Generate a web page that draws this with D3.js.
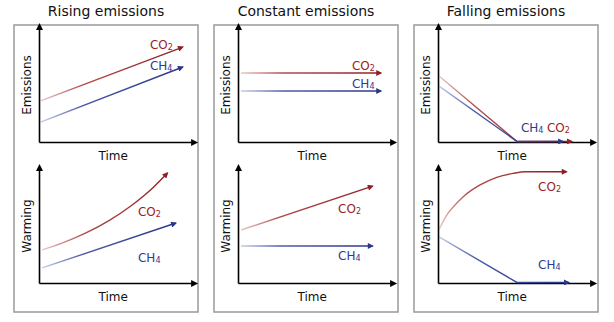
<!DOCTYPE html>
<html>
<head>
<meta charset="utf-8">
<script src="https://cdn.jsdelivr.net/npm/d3@7"></script>
<style>
  html, body { margin: 0; padding: 0; background: #fff; }
  svg { display: block; }
  text { font-family: "DejaVu Sans", sans-serif; }
</style>
</head>
<body>
<svg id="chart" width="614" height="322"></svg>
<script>
// ---- Data (abstract units: x = time 0..10, y = quantity 0..10) ----
const panelTitles = ["Rising emissions", "Constant emissions", "Falling emissions"];
const xAxisLabel = "Time";
const rowLabels = ["Emissions", "Warming"];
const gases = ["CO2", "CH4"];

// Rising emissions
const risingEmissionsCO2 = [[0.1, 3.6], [9.4, 8.33]];
const risingEmissionsCH4 = [[0.1, 1.75], [9.4, 6.58]];
const risingWarmingCO2 = [[0.2, 2.9], [1.5, 3.5], [3, 4.35], [4.6, 5.5], [6, 6.76], [7.5, 8.43], [8.4, 9.65]];
const risingWarmingCH4 = [[0.2, 1.32], [8.95, 5.26]];

// Constant emissions
const constantEmissionsCO2 = [[0.2, 6.05], [9.35, 6.05]];
const constantEmissionsCH4 = [[0.2, 4.47], [9.35, 4.47]];
const constantWarmingCO2 = [[0.2, 4.65], [8.8, 8.5]];
const constantWarmingCH4 = [[0.2, 3.25], [8.8, 3.25]];

// Falling emissions
const fallingEmissionsCO2 = [[0.07, 5.79], [5.16, 0.05], [8.75, 0.05]];
const fallingEmissionsCH4 = [[0.07, 4.9], [5.16, 0.05], [8.17, 0.05]];
const fallingWarmingCO2 = [[0.07, 4.7], [0.57, 5.96], [1.11, 6.84], [1.65, 7.57], [2.75, 8.6], [3.84, 9.27], [4.92, 9.62], [5.69, 9.76], [8.4, 9.76]];
const fallingWarmingCH4 = [[0.07, 4.04], [5.16, 0.05], [8.55, 0.05]];

// label anchor points (data units: left x, baseline y)
const labelAnchors = [
  [ { CO2: [7.25, 8.16], CH4: [7.25, 6.32] }, { CO2: [6.47, 5.88], CH4: [6.47, 1.84] } ],
  [ { CO2: [7.45, 6.32], CH4: [7.45, 4.74] }, { CO2: [6.54, 6.14], CH4: [6.54, 2.02] } ],
  [ { CO2: [7.12, 0.88], CH4: [5.42, 0.88] }, { CO2: [6.54, 8.07], CH4: [6.54, 1.23] } ]
];

const series = [
  [ { CO2: risingEmissionsCO2, CH4: risingEmissionsCH4 },
    { CO2: risingWarmingCO2, CH4: risingWarmingCH4 } ],
  [ { CO2: constantEmissionsCO2, CH4: constantEmissionsCH4 },
    { CO2: constantWarmingCO2, CH4: constantWarmingCH4 } ],
  [ { CO2: fallingEmissionsCO2, CH4: fallingEmissionsCH4 },
    { CO2: fallingWarmingCO2, CH4: fallingWarmingCH4 } ]
];

// ---- Styles / layout ----
const lineColor = { CO2: "#b24a4c", CH4: "#4c5aa8" };
const headColor = { CO2: "#8e1f24", CH4: "#2a3689" };
const textColor = { CO2: "#9c1c22", CH4: "#2d3b93" };
const subscript = { CO2: ["CO", "2"], CH4: ["CH", "4"] };

const svg = d3.select("#chart");
const defs = svg.append("defs");

defs.append("marker")
  .attr("id", "axisHead").attr("markerUnits", "userSpaceOnUse")
  .attr("viewBox", "0 0 10 10").attr("refX", 2).attr("refY", 5)
  .attr("markerWidth", 9).attr("markerHeight", 7).attr("orient", "auto")
  .append("path").attr("d", "M0,0 L10,5 L0,10 Z").attr("fill", "#000");

gases.forEach(g => {
  defs.append("marker")
    .attr("id", "head" + g).attr("markerUnits", "userSpaceOnUse")
    .attr("viewBox", "0 0 10 10").attr("refX", 8).attr("refY", 5)
    .attr("markerWidth", 8).attr("markerHeight", 6).attr("orient", "auto")
    .append("path").attr("d", "M0,0 L10,5 L0,10 Z").attr("fill", headColor[g]);
});

const panelW = 184, panelStep = 200, panelX0 = 14, boxTop = 25, boxBottom = 312;
const rows = [ { yBottom: 142, yTop: 28 }, { yBottom: 283, yTop: 169 } ];
const axisLen = 153;

let gradId = 0;

panelTitles.forEach((title, p) => {
  const bx = panelX0 + p * panelStep;
  const ox = bx + (p === 0 ? 25 : 24);
  const g = svg.append("g");

  g.append("rect")
    .attr("x", bx).attr("y", boxTop)
    .attr("width", panelW).attr("height", boxBottom - boxTop)
    .attr("fill", "none").attr("stroke", "#a0a0a0").attr("stroke-width", 1.6);

  g.append("text")
    .attr("x", bx + panelW / 2).attr("y", 16)
    .attr("text-anchor", "middle").attr("font-size", 14).attr("fill", "#111")
    .text(title);

  rows.forEach((row, r) => {
    const x = d3.scaleLinear().domain([0, 10]).range([ox, ox + axisLen]);
    const y = d3.scaleLinear().domain([0, 10]).range([row.yBottom, row.yTop]);
    const sg = g.append("g");

    const xa = sg.append("g").attr("transform", `translate(0,${row.yBottom})`)
      .call(d3.axisBottom(x).tickValues([]).tickSizeOuter(0));
    xa.select(".domain").attr("stroke", "#000").attr("stroke-width", 1.6)
      .attr("marker-end", "url(#axisHead)");
    const ya = sg.append("g").attr("transform", `translate(${ox},0)`)
      .call(d3.axisLeft(y).tickValues([]).tickSizeOuter(0));
    ya.select(".domain").attr("stroke", "#000").attr("stroke-width", 1.6)
      .attr("marker-end", "url(#axisHead)");

    sg.append("text")
      .attr("x", x(4.85)).attr("y", row.yBottom + 18)
      .attr("text-anchor", "middle").attr("font-size", 12).attr("fill", "#111")
      .text(xAxisLabel);

    sg.append("text")
      .attr("transform", `translate(${ox - 8},${(row.yBottom + row.yTop) / 2}) rotate(-90)`)
      .attr("text-anchor", "middle").attr("font-size", 12).attr("fill", "#111")
      .text(rowLabels[r]);

    const s = series[p][r];

    gases.forEach(gas => {
      const pts = s[gas];
      const line = d3.line().x(d => x(d[0])).y(d => y(d[1]))
        .curve(pts.length > 3 ? d3.curveMonotoneX : d3.curveLinear);
      const id = "grad" + (gradId++);
      const first = pts[0], last = pts[pts.length - 1];
      const lg = defs.append("linearGradient").attr("id", id)
        .attr("gradientUnits", "userSpaceOnUse")
        .attr("x1", x(first[0])).attr("y1", y(first[1]))
        .attr("x2", x(last[0])).attr("y2", y(last[1]));
      lg.append("stop").attr("offset", 0).attr("stop-color", lineColor[gas]).attr("stop-opacity", 0.3);
      lg.append("stop").attr("offset", 0.3).attr("stop-color", lineColor[gas]).attr("stop-opacity", 1);
      lg.append("stop").attr("offset", 1).attr("stop-color", headColor[gas]).attr("stop-opacity", 1);

      sg.append("path")
        .attr("d", line(pts))
        .attr("fill", "none")
        .attr("stroke", `url(#${id})`)
        .attr("stroke-width", 1.4)
        .attr("marker-end", `url(#head${gas})`);

      const a = labelAnchors[p][r][gas];
      const t = sg.append("text")
        .attr("x", x(a[0])).attr("y", y(a[1]))
        .attr("font-size", 12).attr("fill", textColor[gas]);
      t.append("tspan").text(subscript[gas][0]);
      t.append("tspan").attr("font-size", 8).attr("dy", 1).text(subscript[gas][1]);
    });
  });
});
</script>
</body>
</html>
